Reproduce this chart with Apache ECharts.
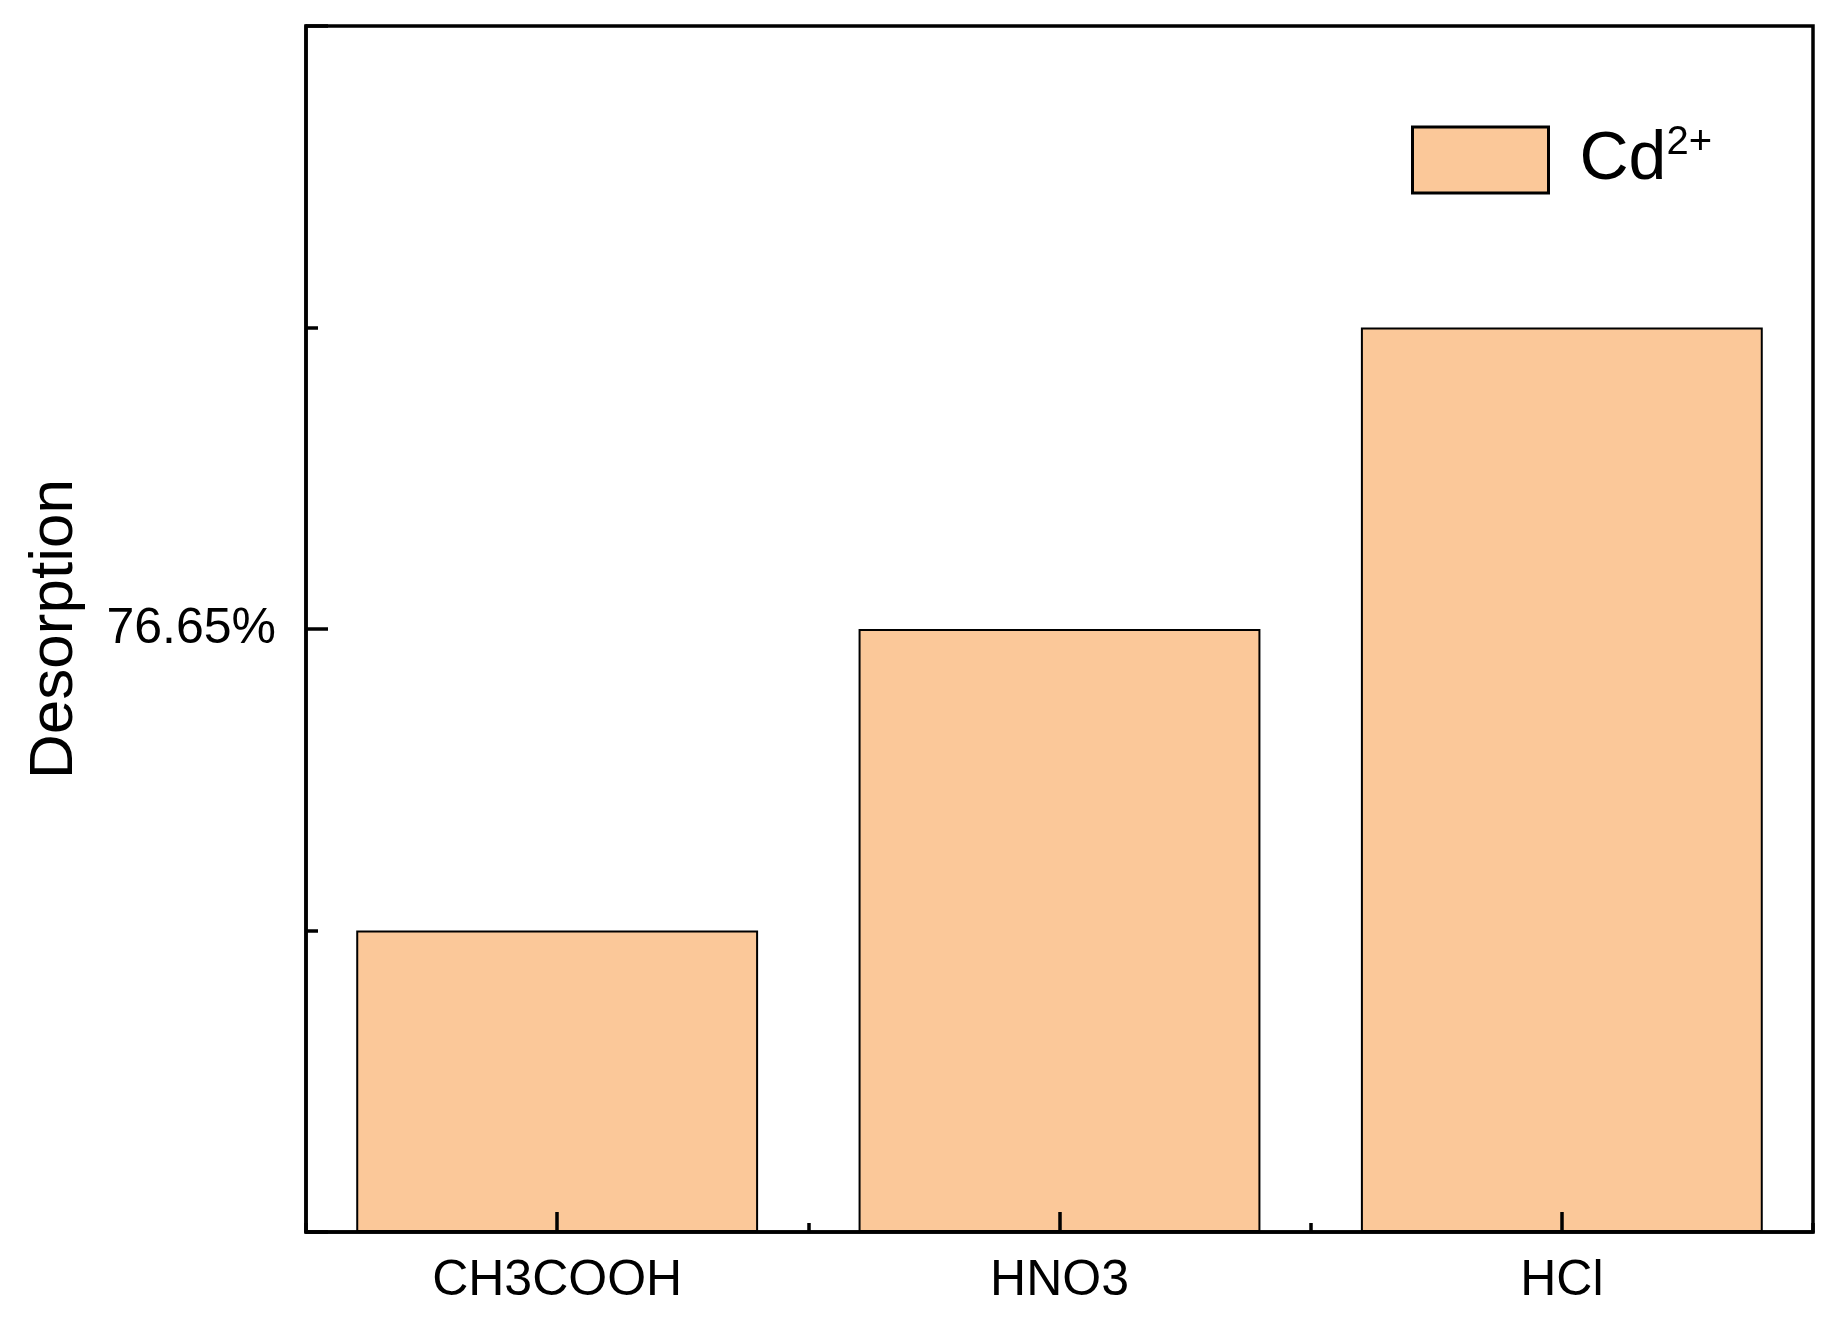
<!DOCTYPE html>
<html>
<head>
<meta charset="utf-8">
<script src="https://cdn.jsdelivr.net/npm/echarts@6/dist/echarts.min.js"></script>
<style>
  html, body { margin: 0; padding: 0; background: #fff; }
  #main { width: 1838px; height: 1331px; }
</style>
</head>
<body>
<div id="main"></div>
<script>
// data (y in tick steps: the only labelled tick is 76.65%)
var categories = ['CH3COOH', 'HNO3', 'HCl'];
var desorption = [1, 2, 3];
var yTickLabels = { 2: '76.65%' };

var font = 'Liberation Sans, Arial, sans-serif';
var chart = echarts.init(document.getElementById('main'));

var option = {
    animation: false,
    grid: {
        left: 306,
        right: 25,
        top: 26,
        bottom: 99,
        show: true,
        borderColor: '#000',
        borderWidth: 3.5
    },
    legend: {
        left: 1406,
        top: 118,
        icon: 'rect',
        itemWidth: 136,
        itemHeight: 66,
        itemGap: 0,
        selectedMode: false,
        formatter: '{a|Cd}{b|2+}',
        textStyle: {
            rich: {
                a: { fontFamily: font, fontSize: 68, color: '#000', padding: [0, 0, 0, 26] },
                b: { fontFamily: font, fontSize: 40, color: '#000', verticalAlign: 'top', padding: [0, 0, 34, 0] }
            }
        },
        data: [{ name: 'Cd2+', itemStyle: { borderColor: '#000', borderWidth: 3 } }]
    },
    xAxis: [
        {
            type: 'category',
            position: 'bottom',
            z: 5,
            data: categories,
            axisLine: { lineStyle: { color: '#000', width: 3.5 } },
            axisTick: { show: true, inside: true, alignWithLabel: true, length: 20, lineStyle: { color: '#000', width: 3.5 } },
            axisLabel: { color: '#000', fontFamily: font, fontSize: 50, margin: 24 }
        },
        {
            type: 'category',
            position: 'bottom',
            z: 5,
            data: categories,
            axisLine: { show: false },
            axisTick: { show: true, inside: true, length: 9, lineStyle: { color: '#000', width: 3.5 } },
            axisLabel: { show: false }
        }
    ],
    yAxis: {
        type: 'value',
        min: 0,
        max: 4,
        interval: 2,
        z: 5,
        name: 'Desorption',
        nameLocation: 'middle',
        nameGap: 220,
        nameTextStyle: { color: '#000', fontFamily: font, fontSize: 62 },
        splitLine: { show: false },
        axisLine: { show: true, lineStyle: { color: '#000', width: 3.5 } },
        axisTick: { show: true, inside: true, length: 22, lineStyle: { color: '#000', width: 3.5 } },
        minorTick: { show: true, splitNumber: 2, length: 12, lineStyle: { color: '#000', width: 3.5 } },
        axisLabel: {
            color: '#000',
            fontFamily: font,
            fontSize: 50,
            margin: 30,
            formatter: function (v) { return yTickLabels[v] || ''; }
        }
    },
    series: [
        {
            name: 'Cd2+',
            type: 'bar',
            barCategoryGap: '20%',
            itemStyle: { color: '#FBC899', borderColor: '#000', borderWidth: 2 },
            data: desorption
        }
    ]
};

chart.setOption(option);
</script>
</body>
</html>
